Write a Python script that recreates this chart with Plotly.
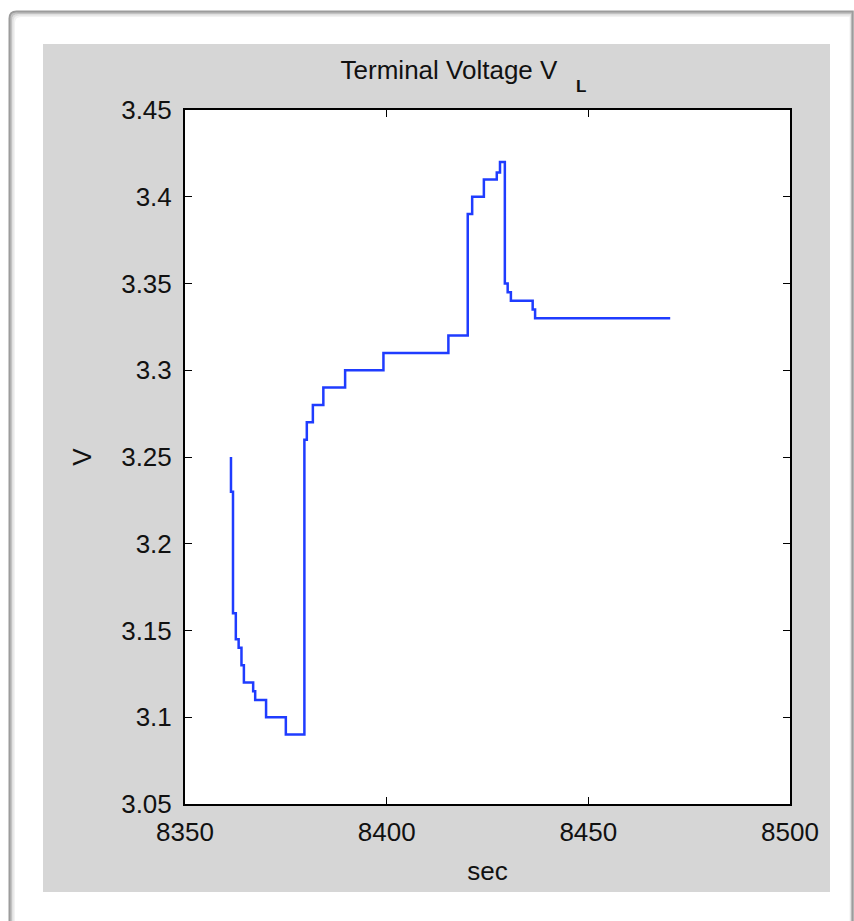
import plotly.graph_objects as go

# ---- data ----
time_sec = [8361.4, 8361.4, 8361.9, 8362.6, 8363.3, 8364.0, 8364.6, 8366.9, 8367.4,
            8370.1, 8375.0, 8379.6, 8380.2, 8381.7, 8384.3, 8389.7, 8399.2, 8415.3,
            8420.1, 8421.2, 8424.1, 8427.3, 8428.1, 8429.3, 8430.0, 8430.8, 8436.2,
            8436.8, 8470.3]
voltage = [3.25, 3.23, 3.16, 3.145, 3.14, 3.13, 3.12, 3.115, 3.11,
           3.10, 3.09, 3.26, 3.27, 3.28, 3.29, 3.30, 3.31, 3.32,
           3.39, 3.40, 3.41, 3.414, 3.42, 3.35, 3.345, 3.34, 3.335,
           3.33, 3.33]

x_ticks = [8350, 8400, 8450, 8500]
x_tick_text = ["8350", "8400", "8450", "8500"]
y_ticks = [3.05, 3.10, 3.15, 3.20, 3.25, 3.30, 3.35, 3.40, 3.45]
y_tick_text = ["3.05", "3.1", "3.15", "3.2", "3.25", "3.3", "3.35", "3.4", "3.45"]

# ---- geometry ----
W, H = 854, 921
L, R, T, B = 185, 790, 110, 804   # plot area in pixels
PW, PH = R - L, B - T

def px(x):
    return (x - L) / PW

def py(y):
    return (B - y) / PH

FONT = "Liberation Sans, Arial, sans-serif"
TXT = "#111111"

fig = go.Figure()
fig.add_trace(go.Scatter(
    x=time_sec, y=voltage, mode="lines", line_shape="hv",
    line=dict(color="#1f3cff", width=2.5), showlegend=False, hoverinfo="skip"))

shapes = []
# gray figure panel
shapes.append(dict(type="rect", xref="paper", yref="paper",
                   x0=px(43), x1=px(830), y0=py(892), y1=py(44),
                   fillcolor="#d6d6d6", line=dict(width=0), layer="below"))
# white axes background
shapes.append(dict(type="rect", xref="paper", yref="paper",
                   x0=0, x1=1, y0=0, y1=1,
                   fillcolor="white", line=dict(width=0), layer="below"))

# outer card frame with a soft shadow
def frame(off, color, width):
    x0, y0, x1, y1, r = 9 + off, 11 + off, 853 - off * 0.5, 930, 7
    path = (f"M {px(x0)} {py(y1)} L {px(x0)} {py(y0 + r)} "
            f"Q {px(x0)} {py(y0)} {px(x0 + r)} {py(y0)} "
            f"L {px(x1)} {py(y0)} L {px(x1)} {py(y1)}")
    return dict(type="path", xref="paper", yref="paper", path=path,
                line=dict(color=color, width=width), layer="below")

shapes.append(frame(5.0, "#f2f2f2", 2))
shapes.append(frame(3.5, "#e0e0e0", 2))
shapes.append(frame(2.0, "#c2c2c2", 2))
shapes.append(frame(0.5, "#9c9c9c", 2))

annotations = [
    dict(text="<b>L</b>", xref="paper", yref="paper", x=px(581), y=py(87),
         xanchor="center", yanchor="middle", showarrow=False,
         font=dict(family=FONT, size=17, color=TXT)),
]

fig.update_layout(
    width=W, height=H, autosize=False,
    margin=dict(l=L, r=W - R, t=T, b=H - B, pad=0),
    paper_bgcolor="white", plot_bgcolor="white",
    font=dict(family=FONT, size=26, color=TXT),
    shapes=shapes, annotations=annotations,
    title=dict(text="Terminal Voltage V", x=px(449), xanchor="center",
               xref="paper", yref="container", y=1 - 70 / H, yanchor="middle",
               font=dict(family=FONT, size=26, color=TXT)),
    xaxis=dict(range=[8350, 8500], tickvals=x_ticks, ticktext=x_tick_text,
               ticks="inside", ticklen=7, tickwidth=1.2, tickcolor="black",
               showline=True, linecolor="black", linewidth=2, mirror="ticks",
               showgrid=False, zeroline=False, ticklabelstandoff=4,
               title=dict(text="sec", standoff=16,
                          font=dict(family=FONT, size=26, color=TXT)),
               tickfont=dict(family=FONT, size=26, color=TXT)),
    yaxis=dict(range=[3.05, 3.45], tickvals=y_ticks, ticktext=y_tick_text,
               ticks="inside", ticklen=7, tickwidth=1.2, tickcolor="black",
               showline=True, linecolor="black", linewidth=2, mirror="ticks",
               showgrid=False, zeroline=False, ticklabelstandoff=6,
               title=dict(text="V", standoff=22,
                          font=dict(family=FONT, size=26, color=TXT)),
               tickfont=dict(family=FONT, size=26, color=TXT)),
)

fig.write_html("out.html")
